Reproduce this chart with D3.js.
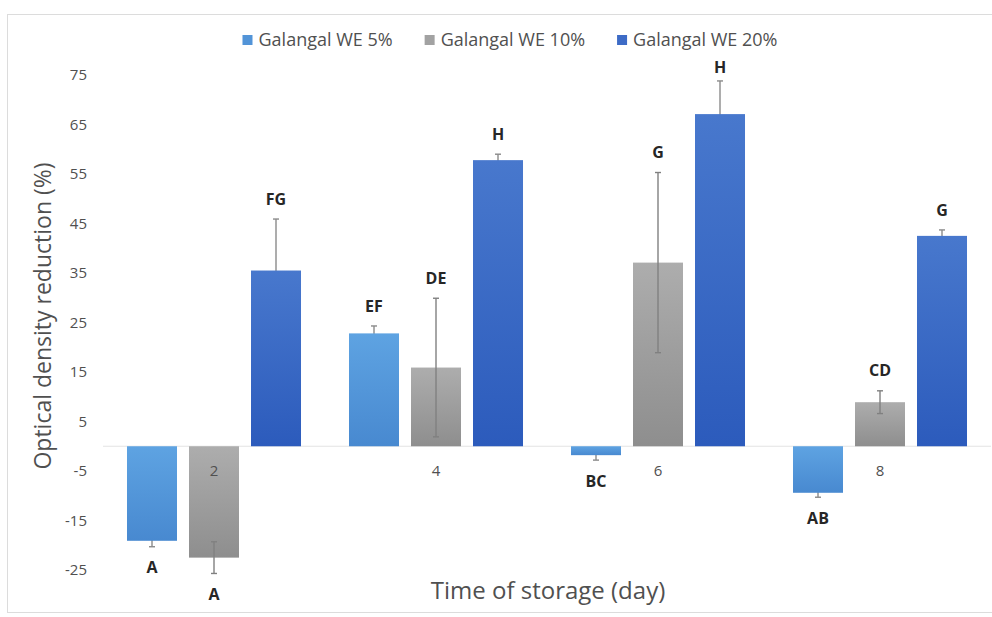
<!DOCTYPE html>
<html>
<head>
<meta charset="utf-8">
<script src="https://cdn.jsdelivr.net/npm/d3@7"></script>
<style>
  body { margin: 0; background: #fff; }
  text { font-family: "Open Sans", sans-serif; }
</style>
</head>
<body>
<div id="container"></div>
<script>
let days = ['2', '4', '6', '8'],
  series = ['Galangal WE 5%', 'Galangal WE 10%', 'Galangal WE 20%'],
  we5 = [-19.1, 22.8, -1.8, -9.4],
  we10 = [-22.5, 15.9, 37.1, 8.9],
  we20 = [35.5, 57.8, 67.1, 42.5],
  err5 = [1.2, 1.5, 1.0, 0.9],
  err10 = [3.2, 14.0, 18.2, 2.3],
  err20 = [10.4, 1.2, 6.7, 1.2],
  letters5 = ['A', 'EF', 'BC', 'AB'],
  letters10 = ['A', 'DE', 'G', 'CD'],
  letters20 = ['FG', 'H', 'H', 'G'],
  y_ticks = [-25, -15, -5, 5, 15, 25, 35, 45, 55, 65, 75];

let width = 992,
  height = 617,
  plot = { left: 103, right: 991, top: 75, bottom: 570 };

let values = [we5, we10, we20],
  errors = [err5, err10, err20],
  letters = [letters5, letters10, letters20],
  colors = [
    ['#5ea3e2', '#4889d0'],
    ['#adadad', '#8e8e8e'],
    ['#4878cd', '#2c5bbc']
  ],
  swatch = ['#5294d8', '#a2a2a2', '#3d6bc6'];

let rows = [];
days.forEach(function (d, i) {
  series.forEach(function (s, j) {
    rows.push({ day: d, s: s, j: j, v: values[j][i], e: errors[j][i], t: letters[j][i] });
  });
});

let svg = d3.select('#container')
  .append('svg')
  .attr('width', width)
  .attr('height', height);

// 渐变填充
let defs = svg.append('defs');
colors.forEach(function (c, j) {
  let g = defs.append('linearGradient')
    .attr('id', 'grad' + j)
    .attr('x1', 0).attr('y1', 0).attr('x2', 0).attr('y2', 1);
  g.append('stop').attr('offset', '0%').attr('stop-color', c[0]);
  g.append('stop').attr('offset', '100%').attr('stop-color', c[1]);
});

// 外框
svg.append('rect')
  .attr('x', 7.5).attr('y', 14.5)
  .attr('width', 1000).attr('height', 598)
  .attr('fill', 'none')
  .attr('stroke', '#dcdcdc');

let x0 = d3.scaleBand()
  .domain(days)
  .range([plot.left, plot.right]);

let x1 = d3.scaleBand()
  .domain(series)
  .range([0, x0.bandwidth()])
  .paddingInner(0.1935)
  .paddingOuter(0.387);

let y = d3.scaleLinear()
  .domain([-25, 75])
  .range([plot.bottom, plot.top]);

// 零线
svg.append('line')
  .attr('x1', plot.left).attr('x2', plot.right)
  .attr('y1', y(0)).attr('y2', y(0))
  .attr('stroke', '#e3e3e3');

// 误差线 (蓝色柱子的在柱子后面, 灰色的在前面)
function draw_errors(g, list) {
  list.forEach(function (d) {
    let cx = x0(d.day) + x1(d.s) + x1.bandwidth() / 2;
    g.append('line')
      .attr('x1', cx).attr('x2', cx)
      .attr('y1', y(d.v - d.e)).attr('y2', y(d.v + d.e));
    [d.v - d.e, d.v + d.e].forEach(function (v) {
      g.append('line')
        .attr('x1', cx - 3).attr('x2', cx + 3)
        .attr('y1', y(v)).attr('y2', y(v));
    });
  });
}

let eg_back = svg.append('g')
  .attr('stroke', '#8a8a8a')
  .attr('stroke-width', 1.4);
draw_errors(eg_back, rows.filter(function (d) { return d.j !== 1 }));

// 柱子
svg.append('g').selectAll('rect')
  .data(rows).enter().append('rect')
  .attr('x', function (d) { return x0(d.day) + x1(d.s) })
  .attr('width', x1.bandwidth())
  .attr('y', function (d) { return y(Math.max(0, d.v)) })
  .attr('height', function (d) { return Math.abs(y(d.v) - y(0)) })
  .attr('fill', function (d) { return 'url(#grad' + d.j + ')' });

let eg_front = svg.append('g')
  .attr('stroke', '#808080')
  .attr('stroke-width', 1.4);
draw_errors(eg_front, rows.filter(function (d) { return d.j === 1 }));

// 字母标注
svg.append('g').selectAll('text')
  .data(rows).enter().append('text')
  .attr('x', function (d) { return x0(d.day) + x1(d.s) + x1.bandwidth() / 2 })
  .attr('y', function (d) {
    return d.v >= 0 ? Math.max(y(d.v + d.e) - 20, 67) : y(d.v - d.e) + 21
  })
  .attr('dy', '0.35em')
  .attr('text-anchor', 'middle')
  .attr('font-size', 16)
  .attr('font-weight', 'bold')
  .attr('fill', '#262626')
  .text(function (d) { return d.t });

// 坐标轴
let y_axis = d3.axisLeft(y)
  .tickValues(y_ticks)
  .tickFormat(function (d) { return String(d) })
  .tickSize(0)
  .tickPadding(16);
let ya = svg.append('g')
  .attr('transform', 'translate(' + plot.left + ',0)')
  .call(y_axis);
ya.select('.domain').remove();
ya.selectAll('text')
  .attr('font-family', '"Open Sans", sans-serif')
  .attr('font-size', 15)
  .attr('fill', '#505050');

let x_axis = d3.axisBottom(x0).tickSize(0).tickPadding(19);
let xa = svg.append('g')
  .attr('transform', 'translate(0,' + y(0) + ')')
  .call(x_axis);
xa.select('.domain').remove();
xa.selectAll('text')
  .attr('font-family', '"Open Sans", sans-serif')
  .attr('font-size', 15)
  .attr('fill', '#505050');

// 轴标题
svg.append('text')
  .attr('x', 548).attr('y', 591)
  .attr('dy', '0.35em')
  .attr('text-anchor', 'middle')
  .attr('font-size', 24)
  .attr('fill', '#505050')
  .text('Time of storage (day)');

svg.append('text')
  .attr('transform', 'translate(43,316) rotate(-90)')
  .attr('dy', '0.35em')
  .attr('text-anchor', 'middle')
  .attr('font-size', 23)
  .attr('fill', '#505050')
  .text('Optical density reduction (%)');

// 图例
let legend = svg.append('g');
let items = legend.selectAll('g')
  .data(series).enter().append('g');
items.append('rect')
  .attr('width', 10).attr('height', 10)
  .attr('y', 35)
  .attr('fill', function (d, j) { return swatch[j] });
items.append('text')
  .attr('x', 16).attr('y', 40)
  .attr('dy', '0.35em')
  .attr('font-size', 18)
  .attr('fill', '#505050')
  .text(function (d) { return d });
let lx = 0;
items.each(function () {
  let w = this.getBBox().width;
  d3.select(this).attr('transform', 'translate(' + lx + ',0)');
  lx += w + 32;
});
let lw = lx - 32;
legend.attr('transform', 'translate(' + (510 - lw / 2) + ',0)');
</script>
</body>
</html>
